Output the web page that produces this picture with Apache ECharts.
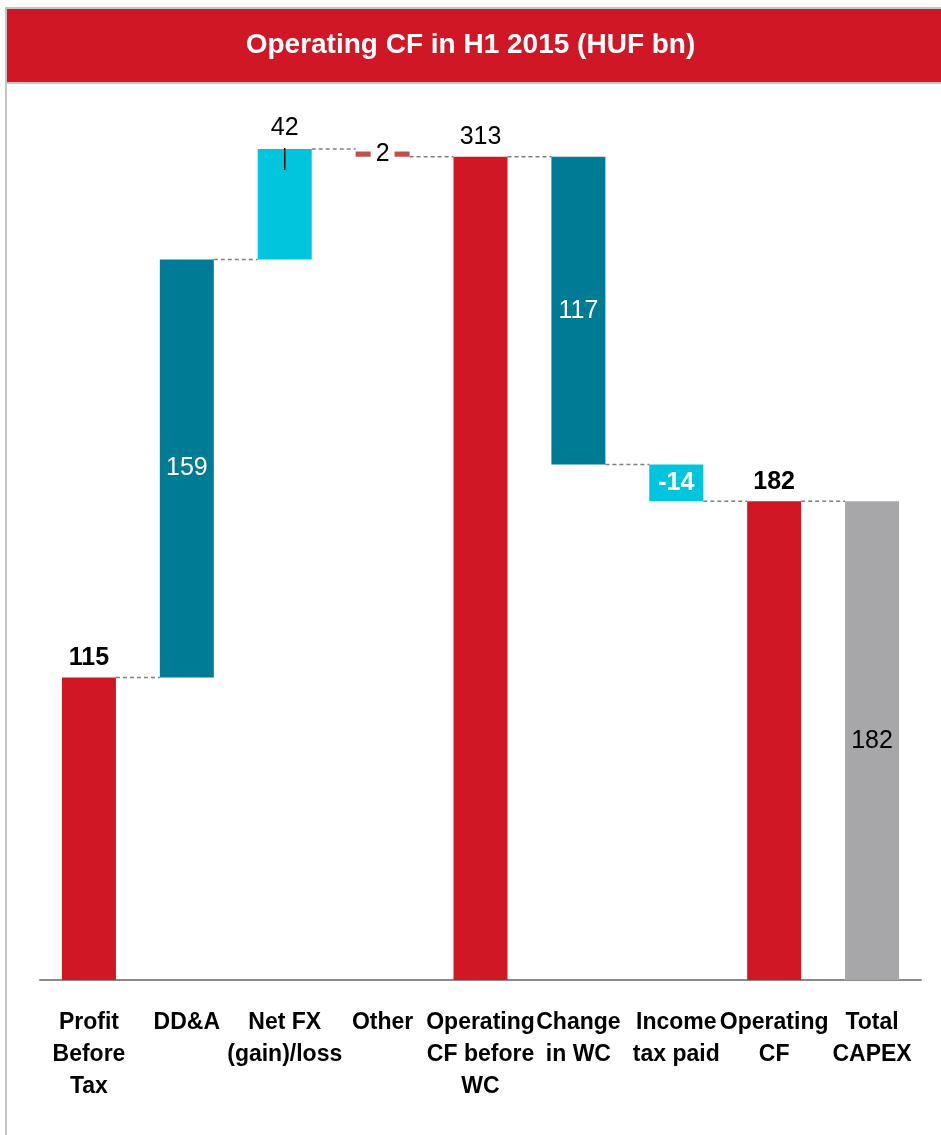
<!DOCTYPE html>
<html>
<head>
<meta charset="utf-8">
<script src="https://cdn.jsdelivr.net/npm/echarts@6/dist/echarts.min.js"></script>
<style>
  html, body { margin: 0; padding: 0; background: #fff; }
  #chart { width: 941px; height: 1135px; }
</style>
</head>
<body>
<div id="chart"></div>
<script>
// Waterfall: operating cash flow bridge, H1 2015 (HUF bn)
const categories = [
  'Profit\nBefore\nTax', 'DD&A', 'Net FX\n(gain)/loss', 'Other',
  'Operating\nCF before\nWC', 'Change\nin WC', 'Income\ntax paid',
  'Operating\nCF', 'Total\nCAPEX'
];
// where each bar starts and how long it is
const bases  = [0, 115, 274, 313, 0, 196, 182, 0, 0];
const values = [115, 159, 42, 2, 313, 117, 14, 182, 182];
// flow direction of each step: up, down or total
const kinds  = ['total', 'up', 'up', 'down', 'total', 'down', 'down', 'total', 'total'];
const labelTexts = ['115', '159', '42', '2', '313', '117', '-14', '182', '182'];

const RED = '#CF1726', TEAL = '#007B95', CYAN = '#00C5DC', GREY = '#A7A7AA', BRICK = '#C0504D';
const barColors = [RED, TEAL, CYAN, BRICK, RED, TEAL, CYAN, RED, GREY];
const FONT = '"Liberation Sans", Arial, sans-serif';

// label placement/style per bar
const labelStyles = [
  { position: 'top', color: '#000', fontWeight: 'bold', distance: 7 },
  { position: 'inside', color: '#fff' },
  { position: 'top', color: '#000', distance: 8 },
  { position: 'inside', color: '#000', backgroundColor: '#fff', padding: [0, 5] },
  { position: 'top', color: '#000', distance: 7 },
  { position: 'inside', color: '#fff' },
  { position: 'inside', color: '#fff', fontWeight: 'bold' },
  { position: 'top', color: '#000', fontWeight: 'bold', distance: 7 },
  { position: 'inside', color: '#000' }
];

// running level at the end of each step, used by the dashed connectors
const ends = bases.map((b, i) => kinds[i] === 'down' ? b : b + values[i]);
const links = ends.slice(0, -1).map((lvl, i) => [i, lvl]);

const chart = echarts.init(document.getElementById('chart'));
chart.setOption({
  animation: false,
  backgroundColor: '#fff',
  graphic: [
    { type: 'rect', shape: { x: 6, y: 8, width: 960, height: 1160 },
      style: { fill: 'none', stroke: '#C4C4C4', lineWidth: 2 }, z: 0 },
    { type: 'rect', shape: { x: 7, y: 9, width: 940, height: 73 },
      style: { fill: RED }, z: 1 },
    { type: 'line', shape: { x1: 7, y1: 83, x2: 941, y2: 83 },
      style: { stroke: '#C4C4C4', lineWidth: 2 }, z: 1 }
  ],
  title: {
    text: 'Operating CF in H1 2015 (HUF bn)',
    left: 'center', top: 29, padding: 0, z: 5,
    textStyle: { color: '#fff', fontSize: 28, fontWeight: 'bold', fontFamily: FONT, lineHeight: 32 }
  },
  grid: { left: 40, right: 20, top: 99, bottom: 155 },
  xAxis: {
    type: 'category',
    data: categories,
    axisLine: { lineStyle: { color: '#8A8A8A', width: 2 } },
    axisTick: { show: false },
    axisLabel: {
      interval: 0, margin: 27, color: '#000', fontSize: 23, fontWeight: 'bold',
      fontFamily: FONT, lineHeight: 32
    }
  },
  yAxis: { type: 'value', min: 0, max: 335, show: false, splitLine: { show: false } },
  series: [
    {
      type: 'bar', stack: 'w', barWidth: 54, silent: true,
      itemStyle: { color: 'transparent' },
      data: bases
    },
    {
      type: 'bar', stack: 'w', barWidth: 54,
      data: values.map((v, i) => ({
        value: v,
        itemStyle: { color: barColors[i] },
        label: Object.assign({
          show: true, formatter: labelTexts[i], fontSize: 25, fontFamily: FONT
        }, labelStyles[i])
      }))
    },
    {
      // dashed connectors between neighbouring bars
      type: 'custom', silent: true, z: 3,
      data: links,
      renderItem: function (params, api) {
        const i = api.value(0), lvl = api.value(1);
        const a = api.coord([i, lvl]);
        const b = api.coord([i + 1, lvl]);
        return {
          type: 'line',
          shape: { x1: a[0] + 27, y1: a[1], x2: b[0] - 27, y2: b[1] },
          style: { stroke: '#7F7F7F', lineWidth: 1.5, lineDash: [4, 3] }
        };
      }
    },
    {
      // leader tick under the Net FX value label
      type: 'custom', silent: true, z: 4,
      data: [[2, bases[2] + values[2]]],
      renderItem: function (params, api) {
        const p = api.coord([api.value(0), api.value(1)]);
        return {
          type: 'line',
          shape: { x1: p[0], y1: p[1] - 1, x2: p[0], y2: p[1] + 21 },
          style: { stroke: '#000', lineWidth: 1.5 }
        };
      }
    }
  ]
});
</script>
</body>
</html>
